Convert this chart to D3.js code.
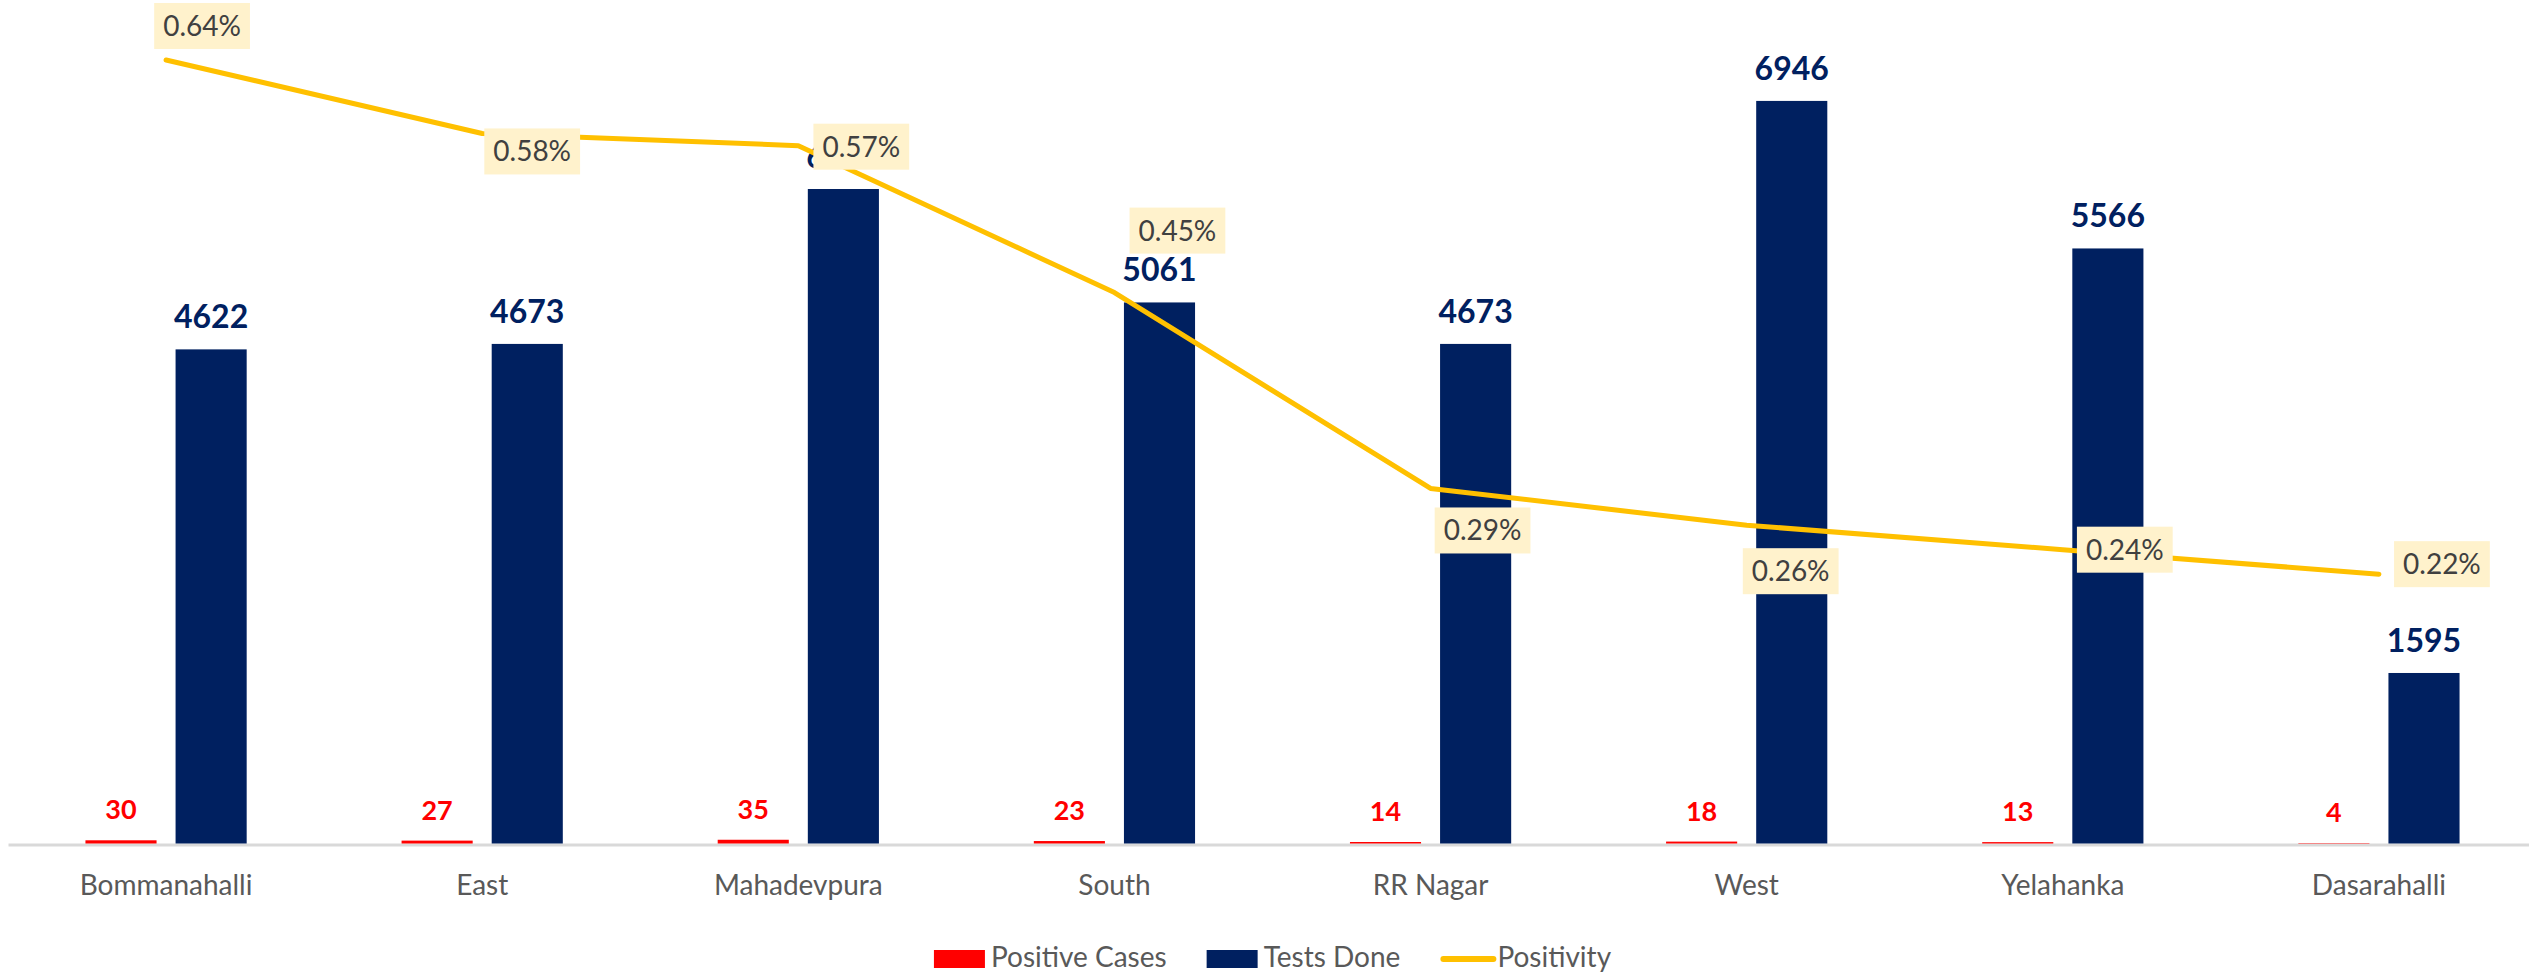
<!DOCTYPE html>
<html>
<head>
<meta charset="utf-8">
<script src="https://cdn.jsdelivr.net/npm/d3@7"></script>
<style>
  body { margin: 0; background: #fff; }
  svg { display: block; font-family: Lato, "Open Sans", sans-serif; }
</style>
</head>
<body>
<div id="chart"></div>
<script>
let zones = ["Bommanahalli", "East", "Mahadevpura", "South", "RR Nagar", "West", "Yelahanka", "Dasarahalli"];
let positive_cases = [30, 27, 35, 23, 14, 18, 13, 4];
let tests_done = [4622, 4673, 6122, 5061, 4673, 6946, 5566, 1595];
let positivity = [0.64, 0.58, 0.57, 0.45, 0.29, 0.26, 0.24, 0.22];

// where Excel put each positivity label, relative to its point
let label_nudge = [[36, -34], [50, 18], [63, 1], [63, -62], [52, 42], [44, 46], [62, 0], [63, -10]];

let width = 2529;
let height = 975;
let base_y = 843.5;

let svg = d3
	.select("#chart")
	.append("svg")
	.attr("width", width)
	.attr("height", height);

let x0 = d3.scaleBand()
	.domain(zones)
	.range([8, 2537])
	.paddingInner(0.49)
	.paddingOuter(0.245);

let x1 = d3.scaleBand()
	.domain(["positive", "tests"])
	.range([0, x0.bandwidth()])
	.paddingInner(0.211);

let y = d3.scaleLinear().domain([0, 7890]).range([base_y, 0]);
let y2 = d3.scaleLinear().domain([0, 0.689]).range([base_y, 0]);

let rows = zones.map((z, i) => ({
	zone: z,
	positive: positive_cases[i],
	tests: tests_done[i],
	rate: positivity[i],
	nudge: label_nudge[i]
}));

// x axis
let x_axis = svg.append("g")
	.attr("transform", "translate(0," + (base_y + 1) + ")")
	.call(d3.axisBottom(x0).tickSize(0).tickSizeOuter(0));

x_axis.select(".domain")
	.attr("stroke", "#D9D9D9")
	.attr("stroke-width", 3);

x_axis.selectAll(".tick text")
	.attr("y", 50)
	.attr("dy", 0)
	.attr("fill", "#595959")
	.style("font-family", "Lato, sans-serif")
	.style("font-size", "28px");

let groups = svg.selectAll(".zone")
	.data(rows)
	.enter()
	.append("g")
	.attr("class", "zone")
	.attr("transform", (d) => "translate(" + x0(d.zone) + ",0)");

groups.append("rect")
	.attr("x", x1("positive"))
	.attr("y", (d) => y(d.positive))
	.attr("width", x1.bandwidth())
	.attr("height", (d) => base_y - y(d.positive))
	.attr("fill", "#FF0000");

groups.append("rect")
	.attr("x", x1("tests"))
	.attr("y", (d) => y(d.tests))
	.attr("width", x1.bandwidth())
	.attr("height", (d) => base_y - y(d.tests))
	.attr("fill", "#002060");

groups.append("text")
	.attr("x", x1("positive") + x1.bandwidth() / 2)
	.attr("y", (d) => y(d.positive) - 21)
	.attr("text-anchor", "middle")
	.attr("fill", "#FF0000")
	.style("font-weight", "bold")
	.style("font-size", "27px")
	.text((d) => d.positive);

groups.append("text")
	.attr("x", x1("tests") + x1.bandwidth() / 2)
	.attr("y", (d) => y(d.tests) - 21)
	.attr("text-anchor", "middle")
	.attr("fill", "#002060")
	.style("font-weight", "bold")
	.style("font-size", "32px")
	.text((d) => d.tests);

// positivity line
let cx = (d) => x0(d.zone) + x0.bandwidth() / 2;

let line = d3.line()
	.x(cx)
	.y((d) => y2(d.rate));

svg.append("path")
	.datum(rows)
	.attr("d", line)
	.attr("fill", "none")
	.attr("stroke", "#FFC000")
	.attr("stroke-width", 5)
	.attr("stroke-linejoin", "round")
	.attr("stroke-linecap", "round");

let rate_labels = svg.selectAll(".rate-label")
	.data(rows)
	.enter()
	.append("g")
	.attr("class", "rate-label")
	.attr("transform", (d) => "translate(" + (cx(d) + d.nudge[0]) + "," + (y2(d.rate) + d.nudge[1]) + ")");

let rate_box = rate_labels.append("rect").attr("fill", "#FFF2CC");

rate_labels.append("text")
	.attr("text-anchor", "middle")
	.attr("y", 10)
	.attr("fill", "#404040")
	.style("font-size", "28px")
	.text((d) => d.rate.toFixed(2) + "%");

rate_labels.each(function () {
	let g = d3.select(this);
	let w = g.select("text").node().getComputedTextLength() + 18;
	g.select("rect")
		.attr("x", -w / 2)
		.attr("y", -23)
		.attr("width", w)
		.attr("height", 46);
});

// legend
let legend_items = [
	{ name: "Positive Cases", color: "#FF0000", kind: "box" },
	{ name: "Tests Done", color: "#002060", kind: "box" },
	{ name: "Positivity", color: "#FFC000", kind: "line" }
];

let legend = svg.append("g");
let lx = 0;
legend_items.forEach((item) => {
	let g = legend.append("g").attr("transform", "translate(" + lx + ",0)");
	if (item.kind === "box") {
		g.append("rect")
			.attr("x", 0)
			.attr("y", -9)
			.attr("width", 51)
			.attr("height", 18)
			.attr("fill", item.color);
	} else {
		g.append("line")
			.attr("x1", 3)
			.attr("x2", 53)
			.attr("y1", 0)
			.attr("y2", 0)
			.attr("stroke", item.color)
			.attr("stroke-width", 6)
			.attr("stroke-linecap", "round");
	}
	let t = g.append("text")
		.attr("x", 57)
		.attr("y", 8)
		.attr("fill", "#595959")
		.style("font-size", "28px")
		.text(item.name);
	lx += 57 + t.node().getComputedTextLength() + 40;
});
lx -= 40;

let mid = (x0.range()[0] + x0.range()[1]) / 2;
legend.attr("transform", "translate(" + (mid - lx / 2) + ",959)");
</script>
</body>
</html>
